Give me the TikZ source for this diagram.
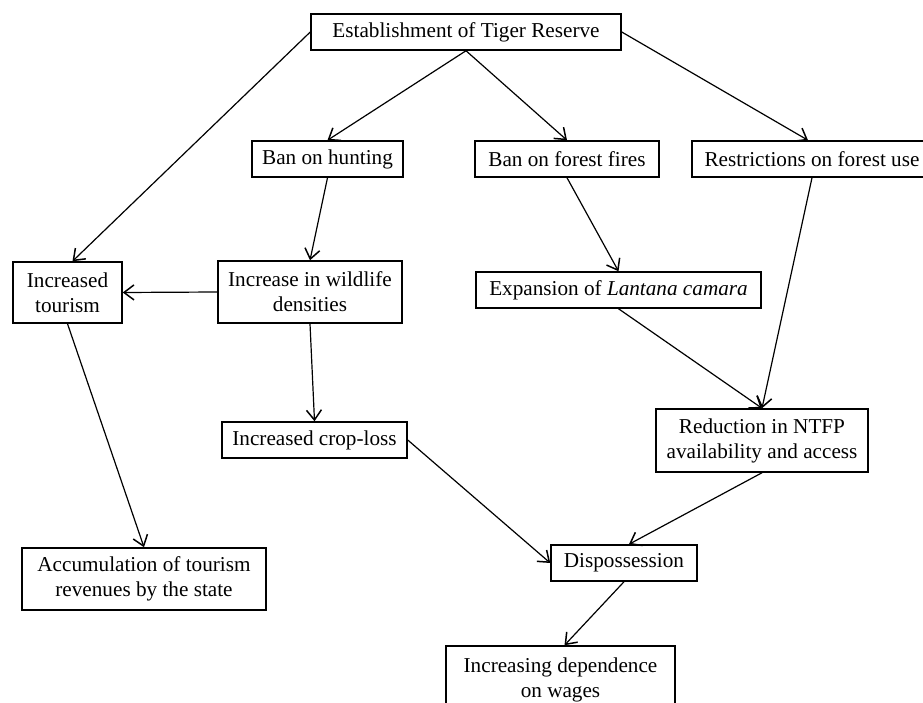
\documentclass[tikz,border=0pt]{standalone}
\usepackage{fontspec}
\setmainfont{Liberation Serif}
\usetikzlibrary{arrows.meta}

\begin{document}
\begin{tikzpicture}[x=1pt,y=-1pt,
        box/.style={draw, line width=1.5pt, inner sep=0pt, align=center,
          font=\fontsize{21.2}{25}\selectfont},
        >={Straight Barb[length=10pt,width=15pt,line width=1.5pt]}]
        \useasboundingbox (0,0) rectangle (923,703);
        \node[box, minimum width=310pt, minimum height=36pt] (tiger) at (466,32) {Establishment of Tiger Reserve};
        \node[box, minimum width=151pt, minimum height=36pt] (hunt) at (327.5,159) {Ban on hunting};
        \node[box, minimum width=184pt, minimum height=36pt] (fires) at (567,159) {Ban on forest fires};
        \node[box, minimum width=240pt, minimum height=36pt] (restr) at (812,159) {Restrictions on forest use};
        \node[box, minimum width=109pt, minimum height=61pt] (tour) at (67.5,292.5) {Increased\\tourism};
        \node[box, minimum width=184pt, minimum height=62pt] (wild) at (310,292) {Increase in wildlife\\densities};
        \node[box, minimum width=285pt, minimum height=36pt] (lant) at (618.5,290) {Expansion of \textit{Lantana camara}};
        \node[box, minimum width=185pt, minimum height=36pt] (crop) at (314.5,440) {Increased crop-loss};
        \node[box, minimum width=212pt, minimum height=63pt] (ntfp) at (762,440.5) {Reduction in NTFP\\availability and access};
        \node[box, minimum width=244pt, minimum height=62pt] (accu) at (144,579) {Accumulation of tourism\\revenues by the state};
        \node[box, minimum width=146pt, minimum height=36pt] (disp) at (624,563) {Dispossession};
        \node[box, minimum width=229pt, minimum height=68pt] (dep) at (560.5,680) {Increasing dependence\\on wages};
        \begin{scope}[line width=1.2pt]
        \draw[->] (tiger.south) -- (hunt.north);
        \draw[->] (tiger.south) -- (fires.north);
        \draw[->] (tiger.west) -- ([xshift=5pt]tour.north);
        \draw[->] (tiger.east) -- ([xshift=-4pt]restr.north);
        \draw[->] (hunt.south) -- (wild.north);
        \draw[->] (wild.west) -- (tour.east);
        \draw[->] (wild.south) -- (crop.north);
        \draw[->] (fires.south) -- (lant.north);
        \draw[->] (restr.south) -- (ntfp.north);
        \draw[->] (lant.south) -- (ntfp.north);
        \draw[->] (tour.south) -- (accu.north);
        \draw[->] (crop.east) -- (disp.west);
        \draw[->] (ntfp.south) -- ([xshift=5pt]disp.north);
        \draw[->] (disp.south) -- ([xshift=4pt]dep.north);
        \end{scope}
\end{tikzpicture}
\end{document}
